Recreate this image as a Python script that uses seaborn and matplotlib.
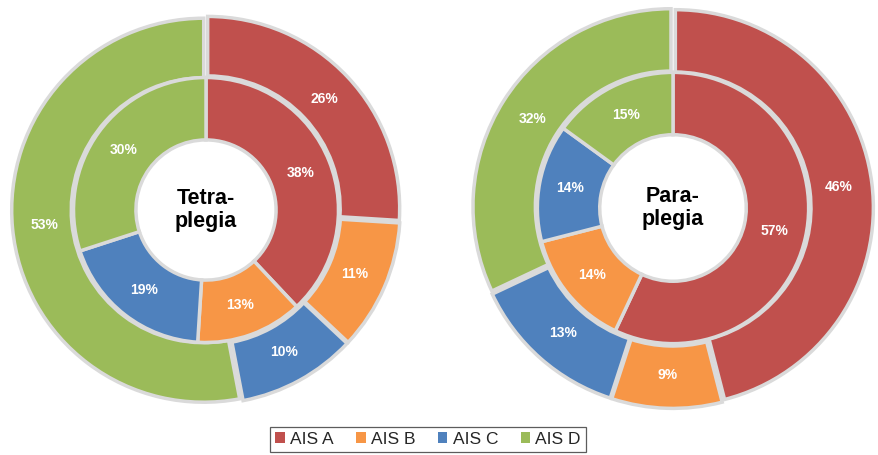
import numpy as np
import matplotlib
matplotlib.use("Agg")
import matplotlib.pyplot as plt
from matplotlib.patches import Patch
import seaborn as sns

# AIS grades and their shares (%)
grades = ["AIS A", "AIS B", "AIS C", "AIS D"]
tetra_outer = [26, 11, 10, 53]
tetra_inner = [38, 13, 19, 30]
para_outer = [46, 9, 13, 32]
para_inner = [57, 14, 14, 15]
centre_titles = ["Tetra-\nplegia", "Para-\nplegia"]

sns.set_theme(style="white")
plt.rcParams["font.family"] = ["Liberation Sans", "DejaVu Sans"]
palette = sns.color_palette(["#C0504D", "#F79646", "#4F81BD", "#9BBB59"])

W, H = 879, 455
fig = plt.figure(figsize=(W / 100, H / 100), dpi=100)
fig.patch.set_facecolor("white")

EDGE = "#DADADA"


def ring_labels(ax, values, r_mid):
    cum = np.cumsum([0] + list(values))
    for i, v in enumerate(values):
        mid = 90 - (cum[i] + v / 2) / sum(values) * 360
        a = np.deg2rad(mid)
        ax.text(r_mid * np.cos(a), r_mid * np.sin(a), f"{v}%",
                ha="center", va="center", color="white",
                fontsize=10, fontweight="bold")


def donut(cx, cy, R, outer, inner, title, r_in, r_hole):
    # square axes where one data unit equals R pixels
    S = 440
    ax = fig.add_axes([(cx - S / 2) / W, (H - cy - S / 2) / H, S / W, S / H])
    lim = S / 2 / R
    ax.pie(outer, radius=1.0, colors=palette, startangle=90,
           counterclock=False, explode=[0.012] * 4,
           wedgeprops=dict(width=1.0 - r_in, edgecolor=EDGE, linewidth=2.5))
    ax.pie(inner, radius=r_in, colors=palette, startangle=90,
           counterclock=False,
           wedgeprops=dict(width=r_in - r_hole, edgecolor=EDGE, linewidth=2.5))
    ring_labels(ax, outer, (1.0 + r_in) / 2)
    ring_labels(ax, inner, (r_in + r_hole) / 2)
    ax.text(0, 0, title, ha="center", va="center", fontsize=15.5,
            fontweight="bold", color="black", linespacing=1.15)
    ax.set_xlim(-lim, lim)
    ax.set_ylim(-lim, lim)
    ax.set_aspect("equal")
    ax.axis("off")


donut(206, 210, 192, tetra_outer, tetra_inner, centre_titles[0], 0.69, 0.365)
donut(673, 208, 198, para_outer, para_inner, centre_titles[1], 0.685, 0.37)

handles = [Patch(facecolor=c, edgecolor="none", label=g)
           for c, g in zip(palette, grades)]
leg = fig.legend(handles=handles, loc="lower center", ncol=4,
                 bbox_to_anchor=(428 / W, 3 / H), frameon=True,
                 fancybox=False, edgecolor="#333333", fontsize=12.5,
                 handlelength=0.55, handleheight=0.55, handletextpad=0.3,
                 columnspacing=1.3, borderpad=0.3, borderaxespad=0)
leg.get_frame().set_linewidth(0.9)

fig.savefig("out.png", dpi=100, facecolor="white")
